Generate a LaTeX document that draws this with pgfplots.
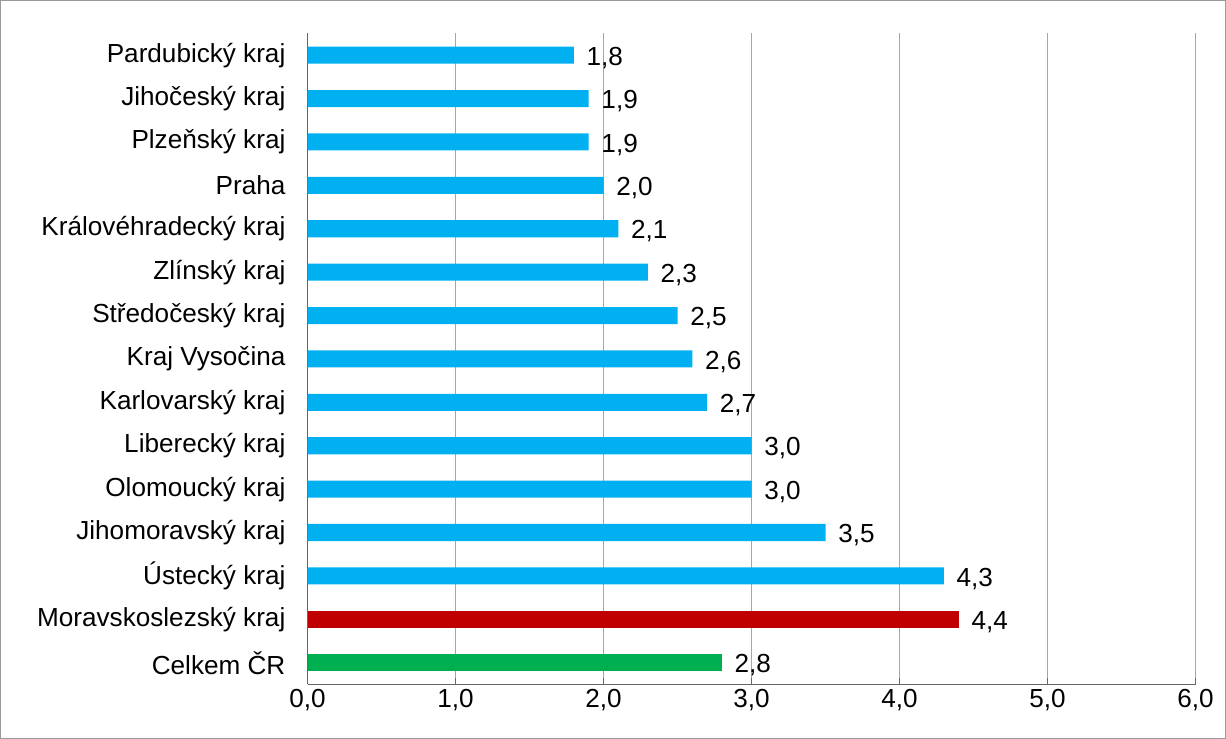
\documentclass[border=0pt]{standalone}
\usepackage{pgfplots}
\pgfplotsset{compat=1.18}
\usepackage{fontspec}
\setmainfont{Liberation Sans}
\begin{document}
\begin{tikzpicture}[x=1pt,y=1pt]
\begin{axis}[
  scale only axis, width=663pt, height=486pt,
  xmin=0, xmax=6, ymin=-0.5, ymax=14.5,
  xtick={0,1,...,6}, ytick={0,...,14},
  yticklabels={Celkem ČR,Moravskoslezský kraj,Ústecký kraj,Jihomoravský kraj,Olomoucký kraj,Liberecký kraj,Karlovarský kraj,Kraj Vysočina,Středočeský kraj,Zlínský kraj,Královéhradecký kraj,Praha,Plzeňský kraj,Jihočeský kraj,Pardubický kraj},
  yticklabel style={xshift=-8pt},
  xticklabel style={/pgf/number format/.cd,fixed,fixed zerofill,precision=1,use comma,assume math mode=true},
  xmajorgrids, major grid style={gray!70},
  axis line style={gray!80!black}, axis x line*=bottom, axis y line*=left,
  tick style={gray!80!black}, major tick length=5pt,
  ytick style={draw=none},
  tick label style={font=\fontsize{19.5}{22}\selectfont},
  xbar, bar width=12.75pt, bar shift=0pt,
  nodes near coords, every node near coord/.append style={font=\fontsize{19.5}{22}\selectfont,black,xshift=6pt,yshift=-2pt,/pgf/number format/.cd,fixed,fixed zerofill,precision=1,use comma,assume math mode=true},
  clip=false,
]
\addplot[draw=none, fill={rgb,255:red,0;green,176;blue,240}] coordinates {
 (4.3,2) (3.5,3) (3.0,4) (3.0,5) (2.7,6) (2.6,7) (2.5,8) (2.3,9) (2.1,10) (2.0,11) (1.9,12) (1.9,13) (1.8,14)};
\addplot[draw=none, fill={rgb,255:red,192;green,0;blue,0}] coordinates {(4.4,1)};
\addplot[draw=none, fill={rgb,255:red,0;green,176;blue,80}] coordinates {(2.8,0)};
\draw[gray!80] (rel axis cs:-0.346,-0.082) rectangle (rel axis cs:1.034,1.051);
\end{axis}
\end{tikzpicture}
\end{document}
